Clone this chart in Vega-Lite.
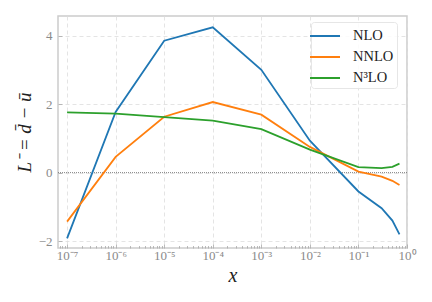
{
  "$schema": "https://vega.github.io/schema/vega-lite/v6.json",
  "width": 349,
  "height": 232,
  "autosize": "none",
  "padding": {"left": 58, "top": 16, "right": 25, "bottom": 54},
  "background": "white",
  "config": {
    "view": {"stroke": "#cccccc", "strokeWidth": 1.5},
    "font": "Liberation Serif"
  },
  "datasets": {
    "curves": [
      {"x": 1e-7, "y": -1.92, "series": "NLO"},
      {"x": 1e-6, "y": 1.77, "series": "NLO"},
      {"x": 1e-5, "y": 3.85, "series": "NLO"},
      {"x": 1e-4, "y": 4.24, "series": "NLO"},
      {"x": 1e-3, "y": 3.0, "series": "NLO"},
      {"x": 1e-2, "y": 0.93, "series": "NLO"},
      {"x": 0.1, "y": -0.55, "series": "NLO"},
      {"x": 0.3, "y": -1.04, "series": "NLO"},
      {"x": 0.5, "y": -1.4, "series": "NLO"},
      {"x": 0.7, "y": -1.8, "series": "NLO"},
      {"x": 1e-7, "y": -1.43, "series": "NNLO"},
      {"x": 1e-6, "y": 0.46, "series": "NNLO"},
      {"x": 1e-5, "y": 1.63, "series": "NNLO"},
      {"x": 1e-4, "y": 2.06, "series": "NNLO"},
      {"x": 1e-3, "y": 1.69, "series": "NNLO"},
      {"x": 1e-2, "y": 0.75, "series": "NNLO"},
      {"x": 0.1, "y": 0.03, "series": "NNLO"},
      {"x": 0.3, "y": -0.12, "series": "NNLO"},
      {"x": 0.5, "y": -0.24, "series": "NNLO"},
      {"x": 0.7, "y": -0.36, "series": "NNLO"},
      {"x": 1e-7, "y": 1.76, "series": "N³LO"},
      {"x": 1e-6, "y": 1.72, "series": "N³LO"},
      {"x": 1e-5, "y": 1.62, "series": "N³LO"},
      {"x": 1e-4, "y": 1.52, "series": "N³LO"},
      {"x": 1e-3, "y": 1.27, "series": "N³LO"},
      {"x": 1e-2, "y": 0.67, "series": "N³LO"},
      {"x": 0.1, "y": 0.16, "series": "N³LO"},
      {"x": 0.3, "y": 0.13, "series": "N³LO"},
      {"x": 0.5, "y": 0.17, "series": "N³LO"},
      {"x": 0.7, "y": 0.26, "series": "N³LO"}
    ],
    "zero": [{"y": 0}]
  },
  "layer": [
    {
      "data": {"name": "zero"},
      "mark": {"type": "rule", "color": "#666666", "strokeWidth": 0.8, "strokeDash": [1, 1]},
      "encoding": {
        "y": {"field": "y", "type": "quantitative", "scale": {"domain": [-2.2, 4.57], "nice": false, "zero": false}}
      }
    },
    {
      "data": {"name": "curves"},
      "mark": {"type": "line", "strokeWidth": 1.8, "clip": true},
      "encoding": {
        "x": {
          "field": "x", "type": "quantitative",
          "scale": {"type": "log", "domain": [6.5e-8, 1], "nice": false},
          "axis": {
            "title": "x",
            "titleFont": "Liberation Serif",
            "titleFontStyle": "italic",
            "titleFontWeight": "normal",
            "titleFontSize": 20,
            "titleColor": "#222222",
            "titlePadding": 2,
            "domain": false,
            "values": [7e-8, 8e-8, 9e-8, 1e-7, 2e-7, 3e-7, 4e-7, 5e-7, 6e-7, 7e-7, 8e-7, 9e-7, 1e-6, 2e-6, 3e-6, 4e-6, 5e-6, 6e-6, 7e-6, 8e-6, 9e-6, 1e-5, 2e-5, 3e-5, 4e-5, 5e-5, 6e-5, 7e-5, 8e-5, 9e-5, 1e-4, 2e-4, 3e-4, 4e-4, 5e-4, 6e-4, 7e-4, 8e-4, 9e-4, 1e-3, 2e-3, 3e-3, 4e-3, 5e-3, 6e-3, 7e-3, 8e-3, 9e-3, 1e-2, 2e-2, 3e-2, 4e-2, 5e-2, 6e-2, 7e-2, 8e-2, 9e-2, 0.1, 0.2, 0.3, 0.4, 0.5, 0.6, 0.7, 0.8, 0.9, 1],
            "labelExpr": "abs(log(datum.value)/LN10 - round(log(datum.value)/LN10)) < 0.001 ? ['10⁻⁷','10⁻⁶','10⁻⁵','10⁻⁴','10⁻³','10⁻²','10⁻¹','10⁰'][round(log(datum.value)/LN10) + 7] : ''",
            "labelFont": "Liberation Serif",
            "labelFontSize": 13,
            "labelColor": "#8a8a8a",
            "labelPadding": 5,
            "labelFlush": false,
            "labelOverlap": false,
            "tickColor": "#aaaaaa",
            "tickWidth": 0.8,
            "tickSize": {"condition": {"test": "abs(log(datum.value)/LN10 - round(log(datum.value)/LN10)) < 0.001", "value": -4}, "value": -2.5},
            "grid": true,
            "gridColor": "#dddddd",
            "gridDash": [4, 3],
            "gridWidth": 0.8,
            "gridOpacity": {"condition": {"test": "abs(log(datum.value)/LN10 - round(log(datum.value)/LN10)) < 0.001", "value": 1}, "value": 0}
          }
        },
        "y": {
          "field": "y", "type": "quantitative",
          "scale": {"domain": [-2.2, 4.57], "nice": false, "zero": false},
          "axis": {
            "title": "L⁻ = d̄ − ū",
            "titleFont": "Liberation Serif",
            "titleFontStyle": "italic",
            "titleFontWeight": "normal",
            "titleFontSize": 19,
            "titleColor": "#222222",
            "titlePadding": 4,
            "domain": false,
            "values": [-2, -1, 0, 1, 2, 3, 4],
            "labelExpr": "datum.value < 0 ? '−' + abs(datum.value) : '' + datum.value",
            "labelFont": "Liberation Serif",
            "labelFontSize": 13,
            "labelColor": "#8a8a8a",
            "labelPadding": 10,
            "tickColor": "#aaaaaa",
            "tickWidth": 0.8,
            "tickSize": -4,
            "grid": true,
            "gridColor": "#dddddd",
            "gridDash": [4, 3],
            "gridWidth": 0.8
          }
        },
        "color": {
          "field": "series", "type": "nominal",
          "scale": {"domain": ["NLO", "NNLO", "N³LO"], "range": ["#1f77b4", "#ff7f0e", "#2ca02c"]},
          "legend": {
            "title": null,
            "orient": "none",
            "legendX": 253,
            "legendY": 6,
            "symbolType": "M-1.5,0H1.5",
            "symbolSize": 400,
            "symbolStrokeWidth": 2,
            "symbolFillColor": "transparent",
            "labelFont": "Liberation Serif",
            "labelFontSize": 14.5,
            "labelColor": "#222222",
            "labelOffset": 17,
            "rowPadding": 3,
            "padding": 3,
            "strokeColor": "#e6e6e6",
            "fillColor": "rgba(255,255,255,0.85)",
            "cornerRadius": 3
          }
        }
      }
    }
  ]
}
